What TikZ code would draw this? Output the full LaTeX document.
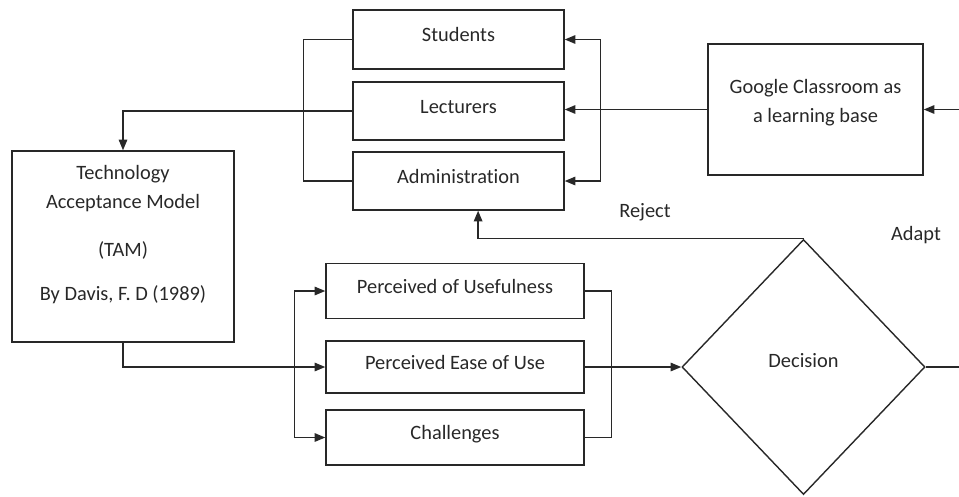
\documentclass[tikz,border=0pt]{standalone}
\usepackage{fontspec}
\setmainfont{Carlito}[Ligatures=NoCommon]
\usetikzlibrary{arrows.meta,shapes.geometric}
\definecolor{ink}{RGB}{40,40,40}
\begin{document}
\begin{tikzpicture}[x=0.025cm,y=-0.025cm,
    every node/.style={text=ink,font=\fontsize{14.5}{20.6}\selectfont},
    box/.style={rectangle,draw=ink,line width=1pt,inner sep=0pt,
      text height=9pt,text depth=6pt},
    arr/.style={-{Triangle[length=7.5pt,width=6pt]}},
    line/.style={draw=ink,line width=1pt}]
  \useasboundingbox (0,0) rectangle (959,496);
  % user groups
  \node[box,minimum width=5.275cm,minimum height=1.475cm] (stud) at (458.5,39.5) {Students};
  \node[box,minimum width=5.275cm,minimum height=1.45cm] (lect) at (458.5,111) {Lecturers};
  \node[box,minimum width=5.275cm,minimum height=1.45cm] (admin) at (458.5,181) {Administration};
  \node[box,minimum width=5.375cm,minimum height=3.275cm] (google) at (815.5,109.5) {};
  \node[align=center] (googletxt) at (815.5,102.5) {Google Classroom as\\a learning base};
  % model
  \node[box,minimum width=5.55cm,minimum height=4.775cm] (tam) at (123,246.5) {};
  \node[align=center] (tamtxt) at (123,235)
    {Technology\\Acceptance Model\\[13.5pt](TAM)\\[10.7pt]By Davis, F. D (1989)};
  \node[box,minimum width=6.45cm,minimum height=1.375cm] (pu) at (455,291) {Perceived of Usefulness};
  \node[box,minimum width=6.45cm,minimum height=1.3cm] (peu) at (455,367) {Perceived Ease of Use};
  \node[box,minimum width=6.45cm,minimum height=1.375cm] (ch) at (455,437.5) {Challenges};
  \node[diamond,draw=ink,line width=1pt,inner sep=0pt,minimum width=6.075cm,
    minimum height=6.375cm,text height=9pt,text depth=8pt] (dec) at (803.5,367) {Decision};
  \node (reject) at (645,212) {Reject};
  \node (adapt) at (916,235) {Adapt};
  % connectors
  \draw[line] (stud.west) -- ++(-49,0) |- (admin.west);
  \draw[line,arr] (lect.west) -| (tam.north);
  \draw[line,arr] (google.west) -- (google.west -| lect.east);
  \draw[line,arr] (lect.east) ++(36,0) |- (stud.east);
  \draw[line,arr] (lect.east) ++(36,0) |- (admin.east);
  \draw[line,arr] (tam.south) |- (peu.west);
  \draw[line,arr] (peu.west) ++(-31,0) |- (pu.west);
  \draw[line,arr] (peu.west) ++(-31,0) |- (ch.west);
  \draw[line] (pu.east) -- ++(27,0) |- (ch.east);
  \draw[line,arr] (peu.east) -- (dec.west);
  \draw[line,arr] (dec.north) -| ([xshift=0.49cm]admin.south);
  \draw[line,arr] (dec.east) -- ++(45,0) |- (google.east);
\end{tikzpicture}
\end{document}
